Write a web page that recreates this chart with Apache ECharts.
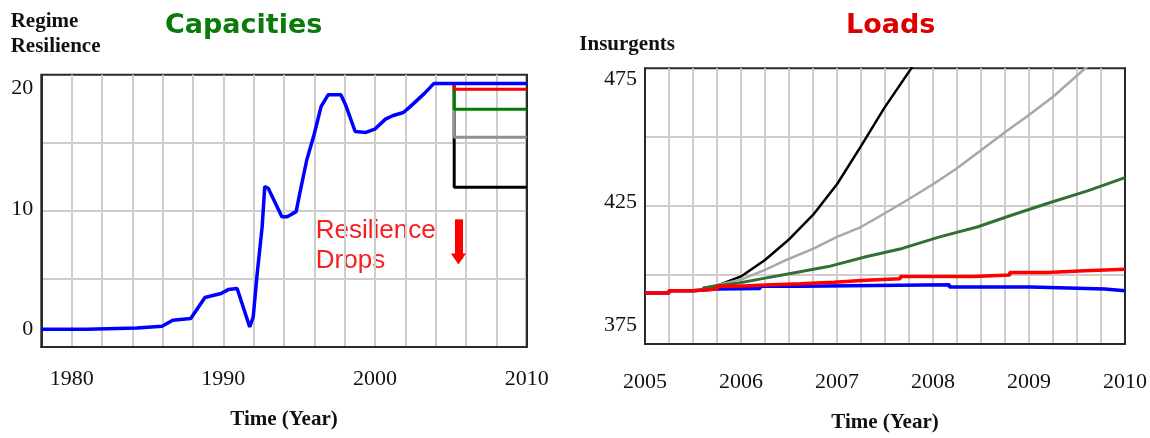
<!DOCTYPE html>
<html>
<head>
<meta charset="utf-8">
<script src="https://cdn.jsdelivr.net/npm/echarts@6/dist/echarts.min.js"></script>
<style>
html,body{margin:0;padding:0;background:#fff;}
#chart{width:1150px;height:438px;}
</style>
</head>
<body>
<div id="chart"></div>
<script>
// ---------- Capacities (left) ----------
const capYears = [1978, 1981.0, 1981.02, 1984.3, 1984.32, 1985.96, 1986.67, 1987.85, 1988.79, 1989.38, 1989.85, 1990.32, 1990.91, 1991.74, 1991.81, 1991.97, 1992.21, 1992.56, 1992.73, 1992.96, 1993.86, 1994.21, 1994.8, 1995.04, 1995.5, 1995.98, 1996.45, 1996.92, 1997.75, 1998.1, 1998.69, 1999.4, 1999.98, 2000.69, 2001.16, 2001.87, 2002.34, 2003.28, 2003.87, 2010];
const capBase  = [0, 0, 0.1, 0.1, 0.25, 0.25, 0.75, 0.89, 2.64, 2.83, 2.97, 3.3, 3.39, 0.19, 0.05, 1.02, 4.35, 8.53, 11.86, 11.72, 9.36, 9.36, 9.78, 11.3, 14.07, 16.17, 18.53, 19.5, 19.5, 18.53, 16.44, 16.36, 16.63, 17.47, 17.75, 18.02, 18.53, 19.63, 20.42, 20.42];
const capScenYears = [2003.87, 2005.22, 2005.22, 2010];
const capRed   = [20.42, 20.42, 19.95, 19.95];
const capGreen = [20.42, 20.42, 18.29, 18.29];
const capGray  = [20.42, 20.42, 15.96, 15.96];
const capBlack = [20.42, 20.42, 11.8, 11.8];
const capYTicks = [0, 10, 20];
const capXTicks = [1980, 1990, 2000, 2010];
const capArrowYear = 2005.5;
const capArrowFrom = 9.14;
const capArrowTo = 5.84;

// ---------- Loads (right) ----------
const redYears = [2005, 2005.25, 2005.5, 2005.75, 2005.98, 2006.25, 2006.62, 2006.97, 2007.3, 2007.66, 2008.42, 2008.8, 2009.19, 2009.58, 2010];
const redLoads = [388.1, 389.0, 389.7, 390.8, 391.3, 391.8, 392.4, 393.2, 393.9, 394.8, 395.4, 396.4, 397.1, 397.7, 397.7];
const blueYears = [2005, 2005.25, 2005.5, 2005.75, 2006.2, 2006.62, 2008.17, 2009.02, 2009.79, 2010];
const blueLoads = [388.1, 389.0, 389.7, 389.9, 390.8, 391.4, 390.5, 389.7, 389.0, 389.0];
const greenYears = [2005.6, 2005.75, 2005.98, 2006.25, 2006.53, 2006.91, 2007.3, 2007.68, 2008.07, 2008.46, 2008.84, 2009.23, 2009.61, 2010];
const greenLoads = [390.0, 391.0, 392.1, 394.1, 396.1, 398.8, 402.8, 406.2, 410.9, 414.9, 420.0, 425.0, 429.6, 435.0];
const grayYears = [2005.6, 2005.75, 2006.0, 2006.25, 2006.49, 2006.76, 2007.0, 2007.25, 2007.49, 2007.75, 2008.0, 2008.25, 2008.49, 2008.76, 2009.0, 2009.25, 2009.63];
const grayLoads = [390.0, 391.3, 393.5, 397.5, 401.8, 406.2, 410.9, 414.9, 420.3, 426.3, 432.3, 438.8, 445.8, 453.8, 460.5, 467.9, 481];
const blackYears = [2005.6, 2005.75, 2006.0, 2006.25, 2006.49, 2006.76, 2007.0, 2007.25, 2007.49, 2007.8];
const blackLoads = [390.0, 391.0, 394.8, 401.5, 409.5, 420.3, 432.3, 447.8, 463.2, 481];
const loadYTicks = [375, 425, 475];

const pairs = (xs, ys) => xs.map((x, i) => [x, ys[i]]);

const GRIDC = '#cdcdcd';
const LABEL = {fontFamily: 'Liberation Serif', fontSize: 22, color: '#111'};
const NAME = {fontFamily: 'Liberation Serif', fontSize: 21, fontWeight: 'bold', color: '#111'};
const SPLIT = {show: true, showMinLine: false, showMaxLine: false, lineStyle: {color: GRIDC, width: 2}};

function lineSeries(name, xi, yi, data, color, width, z, step) {
  return {
    name, type: 'line', xAxisIndex: xi, yAxisIndex: yi, data,
    showSymbol: false, symbol: 'none', z, step: step || false,
    lineStyle: {color, width}, itemStyle: {color}, clip: true, animation: false
  };
}

const chart = echarts.init(document.getElementById('chart'), null, {renderer: 'canvas'});
chart.setOption({
  animation: false,
  backgroundColor: '#ffffff',
  grid: [
    {left: 41.3, top: 74.7, width: 485.4, height: 272.3, show: true, borderColor: '#2a2a2a', borderWidth: 2, backgroundColor: 'transparent', containLabel: false, z: 0},
    {left: 645, top: 68.3, width: 480, height: 276.7, show: true, borderColor: '#2a2a2a', borderWidth: 2, backgroundColor: 'transparent', containLabel: false, z: 0}
  ],
  xAxis: [
    {type: 'value', gridIndex: 0, min: 1978, max: 2010, interval: 2,
     axisLine: {show: true, lineStyle: {color: '#2a2a2a', width: 2}}, axisTick: {show: false},
     splitLine: SPLIT,
     axisLabel: Object.assign({margin: 21, formatter: v => capXTicks.indexOf(v) >= 0 ? String(v) : ''}, LABEL),
     name: 'Time (Year)', nameLocation: 'middle', nameGap: 62, nameTextStyle: NAME},
    {type: 'value', gridIndex: 1, min: 2005, max: 2010, interval: 0.25,
     axisLine: {show: true, lineStyle: {color: '#2a2a2a', width: 2}}, axisTick: {show: false},
     splitLine: SPLIT,
     axisLabel: Object.assign({margin: 27, formatter: v => Number.isInteger(v) ? String(v) : ''}, LABEL),
     name: 'Time (Year)', nameLocation: 'middle', nameGap: 68, nameTextStyle: NAME}
  ],
  yAxis: [
    {type: 'value', gridIndex: 0, position: 'right', min: 0, max: 4, interval: 1,
     axisLabel: {show: false}, axisLine: {show: true, lineStyle: {color: '#2a2a2a', width: 2}}, axisTick: {show: false},
     splitLine: SPLIT},
    {type: 'value', gridIndex: 0, position: 'left', min: -1.47, max: 21.16,
     axisLine: {show: true, lineStyle: {color: '#2a2a2a', width: 2}}, axisTick: {show: false}, splitLine: {show: false},
     axisLabel: Object.assign({margin: 8, customValues: capYTicks}, LABEL)},
    {type: 'value', gridIndex: 1, position: 'right', min: 0, max: 4, interval: 1,
     axisLabel: {show: false}, axisLine: {show: true, lineStyle: {color: '#2a2a2a', width: 2}}, axisTick: {show: false},
     splitLine: SPLIT},
    {type: 'value', gridIndex: 1, position: 'left', min: 367.3, max: 479.5,
     axisLine: {show: true, lineStyle: {color: '#2a2a2a', width: 2}}, axisTick: {show: false}, splitLine: {show: false},
     axisLabel: Object.assign({margin: 8, customValues: loadYTicks}, LABEL)}
  ],
  series: [
    lineSeries('capBlack', 0, 1, pairs(capScenYears, capBlack), '#000000', 3, 2),
    lineSeries('capGray', 0, 1, pairs(capScenYears, capGray), '#909090', 3, 3),
    lineSeries('capGreen', 0, 1, pairs(capScenYears, capGreen), '#008000', 3, 4),
    Object.assign(lineSeries('capRed', 0, 1, pairs(capScenYears, capRed), '#ff0000', 3, 5), {
      markLine: {
        silent: true, animation: false, symbol: ['none', 'triangle'], symbolSize: [15, 11],
        label: {show: false},
        lineStyle: {color: '#ff0000', width: 8, type: 'solid'},
        data: [[{coord: [capArrowYear, capArrowFrom]}, {coord: [capArrowYear, capArrowTo]}]]
      }
    }),
    lineSeries('capBase', 0, 1, pairs(capYears, capBase), '#0000ff', 3.5, 6),

    lineSeries('loadBlue', 1, 3, pairs(blueYears, blueLoads), '#0000ff', 3.5, 2, 'end'),
    lineSeries('loadBlack', 1, 3, pairs(blackYears, blackLoads), '#000000', 2.5, 3),
    lineSeries('loadGray', 1, 3, pairs(grayYears, grayLoads), '#a8a8a8', 2.5, 4),
    lineSeries('loadGreen', 1, 3, pairs(greenYears, greenLoads), '#356f35', 3, 5),
    lineSeries('loadRed', 1, 3, pairs(redYears, redLoads), '#ff0000', 3.5, 6, 'end')
  ],
  graphic: [
    {type: 'text', left: 10.7, top: 11, style: {text: 'Regime', font: 'bold 21px "Liberation Serif"', fill: '#111'}},
    {type: 'text', left: 10.7, top: 36, style: {text: 'Resilience', font: 'bold 21px "Liberation Serif"', fill: '#111'}},
    {type: 'text', left: 579.3, top: 34, style: {text: 'Insurgents', font: 'bold 21px "Liberation Serif"', fill: '#111'}},
    {type: 'text', left: 165, top: 12, style: {text: 'Capacities', font: 'bold 27px "DejaVu Sans"', fill: '#0a7a0a'}},
    {type: 'text', left: 846, top: 12, style: {text: 'Loads', font: 'bold 27px "DejaVu Sans"', fill: '#dd0000'}},
    {type: 'text', left: 315.8, top: 218, style: {text: 'Resilience', font: '26px "Liberation Sans"', fill: '#f52020'}},
    {type: 'text', left: 315.8, top: 248, style: {text: 'Drops', font: '26px "Liberation Sans"', fill: '#f52020'}}
  ]
});
</script>
</body>
</html>
